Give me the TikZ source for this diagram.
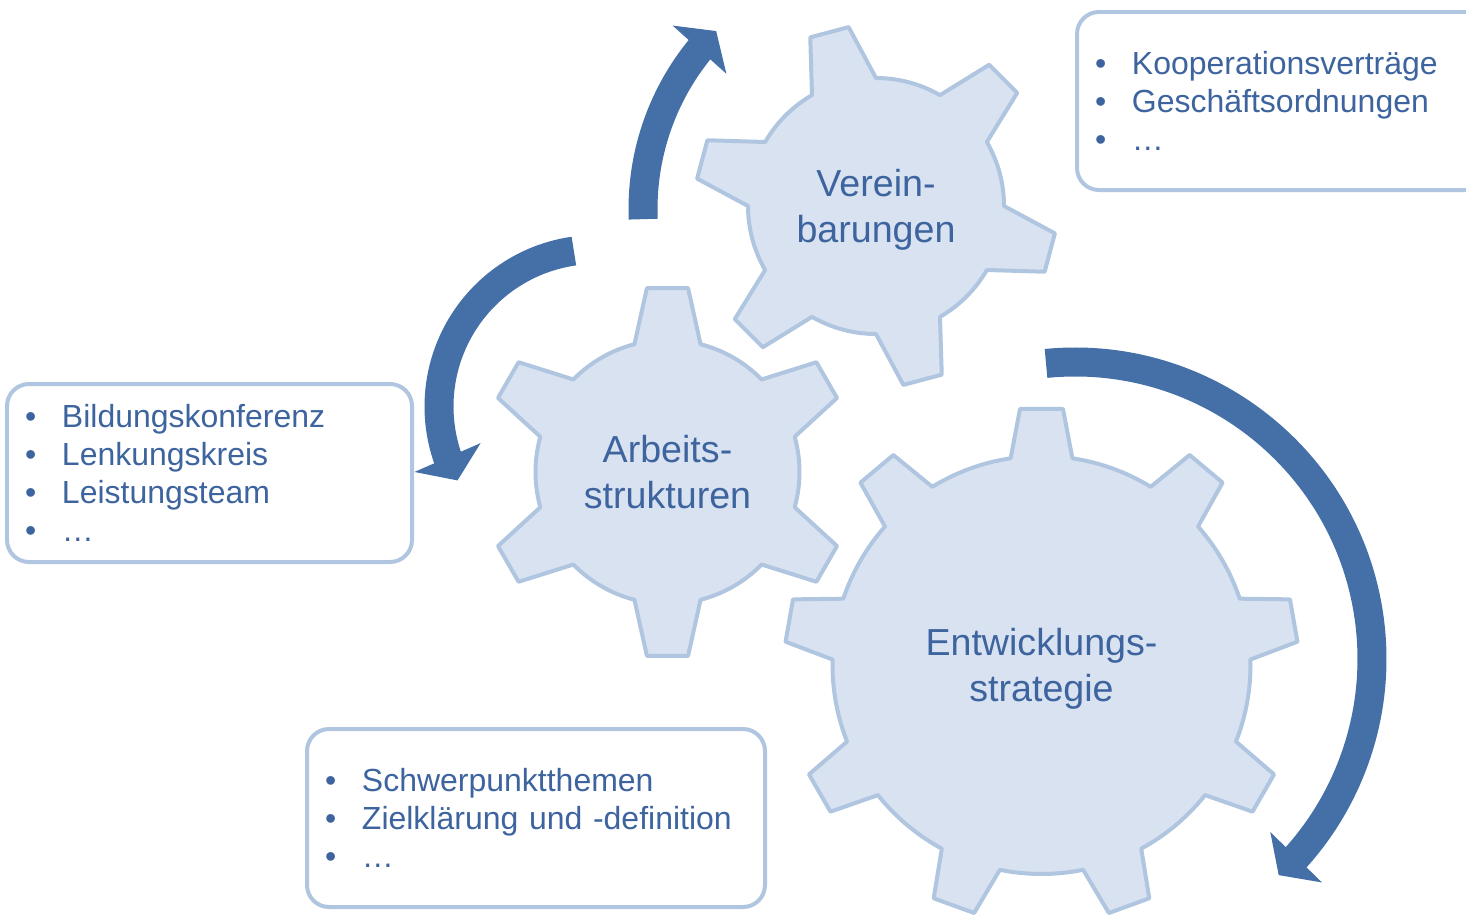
\documentclass[tikz,border=0pt]{standalone}
\usepackage{fontspec}
\setmainfont{Liberation Sans}
\usetikzlibrary{arrows.meta, bending, positioning}
\definecolor{gearfill}{RGB}{217,226,240}
\definecolor{gearline}{RGB}{176,198,224}
\definecolor{turnblue}{RGB}{68,112,167}
\definecolor{textblue}{RGB}{61,100,158}
\tikzset{gearbody/.style = {
  % Wheel:
  fill=gearfill,
  draw=gearline,
  line width=0.04cm, line join=round
  }}
\tikzset{geartext/.style = {
  % Text
  text=textblue, align=center, text depth=0pt,
  font=\fontsize{10.7}{12.9}\selectfont
  }}
\tikzset{infobox/.style = {
  % Rectangle:
  rectangle, rounded corners=0.22cm,
  draw=gearline, line width=0.04cm, fill=white,
  anchor=north west, minimum height=1.78cm,
  inner xsep=0.18cm,
  % Text
  text=textblue, align=left,
  font=\fontsize{9.1}{10.8}\selectfont
  }}
\tikzset{turn/.style = {
  -{Triangle[width=0.71cm, length=0.25cm]},
  draw=turnblue,
  line width=0.29cm
  }}
\newcommand{\bul}{\makebox[0.37cm][l]{•}}
% #1 centre, #2 teeth, #3 inner radius, #4 outer radius,
% #5 angle offset, #6 half angle at tip, #7 half angle at foot
\newcommand{\gearwheel}[7]{%
  \begin{scope}[shift={#1}]
    \draw [gearbody] ({#5+#7}:#3)
      \foreach \k in {1,...,#2} {
        arc[start angle={#5+(\k-1)*360/#2+#7}, end angle={#5+\k*360/#2-#7}, radius=#3]
        -- ({#5+\k*360/#2-#6}:#4) -- ({#5+\k*360/#2+#6}:#4)
        -- ({#5+\k*360/#2+#7}:#3)
      } -- cycle;
  \end{scope}}

\begin{document}
\begin{tikzpicture}
\useasboundingbox (0,0) rectangle (14.66,-9.15);

% CENTRES
\coordinate (vereinhub) at (8.76,-2.06);
\coordinate (arbeithub) at (6.675,-4.72);
\coordinate (strategiehub) at (10.415,-6.65);

% GEARS
\gearwheel{(vereinhub)}{6}{1.28}{1.81}{45}{6.3}{15}
\gearwheel{(arbeithub)}{6}{1.32}{1.85}{30}{6.4}{14.5}
\gearwheel{(strategiehub)}{9}{2.09}{2.57}{50}{4.8}{8.5}

% NODES
\node (verein) [geartext] at (vereinhub) {Verein-\\barungen};
\node (arbeit) [geartext] at (arbeithub) {Arbeits-\\strukturen};
\node (strategie) [geartext] at (strategiehub) {Entwicklungs-\\strategie};

\node (vereinbox) [infobox, text width=3.88cm, minimum width=4.24cm] at (10.75,-0.10)
  {\bul Kooperationsverträge\\ \bul Geschäftsordnungen\\ \bul …};
\node (arbeitbox) [infobox, text width=3.69cm, minimum width=4.05cm] at (0.05,-3.82)
  {\bul Bildungskonferenz\\ \bul Lenkungskreis\\ \bul Leistungsteam\\ \bul …};
\node (strategiebox) [infobox, text width=4.22cm, minimum width=4.58cm] at (3.05,-7.27)
  {\bul Schwerpunktthemen\\ \bul Zielklärung und -definition\\ \bul …};

% arrows
\coordinate (turnA) at (8.96,-2.09);
\coordinate (turnB) at (5.96,-4.065);
\coordinate (turnC) at (10.75,-6.59);
\draw [turn] ([shift={(182.3:2.53)}]turnA) arc[start angle=182.3, end angle=135.3, radius=2.53];
\draw [turn] ([shift={(98.1:1.57)}]turnB) arc[start angle=98.1, end angle=208.1, radius=1.57];
\draw [turn] ([shift={(95.6:2.97)}]turnC) arc[start angle=95.6, end angle=-46.7, radius=2.97];
\end{tikzpicture}
\end{document}
